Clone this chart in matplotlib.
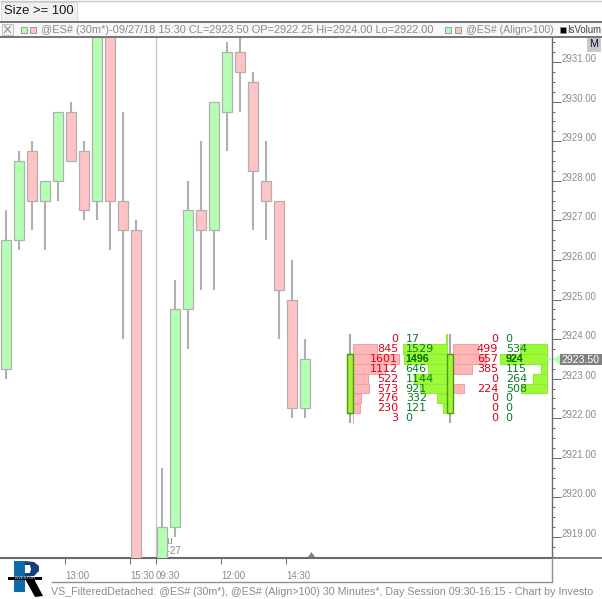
import matplotlib
matplotlib.use("Agg")
import matplotlib.pyplot as plt
from matplotlib.patches import Rectangle, Polygon

W, H = 602, 599
plt.rcParams['font.family'] = ['Liberation Sans', 'DejaVu Sans']

# bar index, open, close, high, low
bar_index = [0, 1, 2, 3, 4, 5, 6, 7, 8, 9, 10, 12, 13, 14, 15, 16, 17, 18, 19, 20, 21, 22, 23]
opens = [2923.25, 2926.5, 2928.75, 2927.5, 2928.0, 2929.75, 2928.75, 2927.5, 2932.5, 2927.5, 2926.75,
         2917.0, 2919.25, 2924.75, 2927.25, 2926.75, 2929.75, 2931.25, 2930.5, 2928.0, 2927.5, 2925.0, 2922.25]
closes = [2926.5, 2928.5, 2927.5, 2928.0, 2929.75, 2928.5, 2927.25, 2932.5, 2927.5, 2926.75, 2917.0,
          2919.25, 2924.75, 2927.25, 2926.75, 2930.0, 2931.25, 2930.75, 2928.25, 2927.5, 2925.25, 2922.25, 2923.5]
highs = [2927.25, 2928.75, 2929.0, 2928.0, 2929.75, 2930.0, 2929.0, 2932.5, 2932.5, 2929.75, 2927.0,
         2920.75, 2925.5, 2928.0, 2929.0, 2930.0, 2931.5, 2932.0, 2930.75, 2929.0, 2927.5, 2926.0, 2924.0]
lows = [2923.0, 2926.25, 2926.75, 2926.25, 2927.5, 2928.5, 2927.0, 2927.0, 2926.25, 2924.0, 2917.0,
        2917.0, 2919.0, 2923.75, 2925.25, 2925.25, 2928.75, 2929.75, 2926.75, 2926.5, 2924.0, 2922.0, 2922.0]

tick_positions = [4.54, 9.54, 11.54, 16.54, 21.54]
tick_labels = ['13:00', '15:30', '09:30', '12:00', '14:30']
major_prices = [2919, 2920, 2921, 2922, 2923, 2924, 2925, 2926, 2927, 2928, 2929, 2930, 2931]

vp_prices = [2924.0, 2923.75, 2923.5, 2923.25, 2923.0, 2922.75, 2922.5, 2922.25, 2922.0]
sell_a = [0, 845, 1601, 1112, 522, 573, 276, 230, 3]
buy_a = [17, 1529, 1496, 646, 1144, 921, 332, 121, 0]
sell_b = [0, 499, 657, 385, 0, 224, 0, 0, 0]
buy_b = [0, 534, 924, 115, 264, 508, 0, 0, 0]

GREEN, RED, EDGE, WICK = '#b4ffb4', '#ffc3c3', '#b0b0b0', '#b0b0b0'
LIME, LIME_E, PINK, PINK_E = '#9cfb36', '#90e840', '#ffb6b6', '#eaa4a4'
TXT = '#8a8a8a'
DARK = '#6a6a6a'

fig = plt.figure(figsize=(W / 100, H / 100), dpi=100, facecolor='white')

# chart axes: x in bar index, y in price
ax = fig.add_axes([0, 1 - 558 / H, 551.5 / W, (558 - 37) / H])
px_per_bar = 13.0
x0_px = 6.0
px2i = lambda p: (p - x0_px) / px_per_bar
pp = 39.58
ax.set_facecolor('white')
for s in ('top', 'left'):
    ax.spines[s].set_visible(False)
ax.spines['right'].set_color(DARK)
ax.spines['bottom'].set_color(DARK)
ax.spines['bottom'].set_linewidth(1.5)
ax.spines['right'].set_linewidth(1.0)

ax.yaxis.tick_right()
ax.set_yticks(major_prices)
ax.set_yticklabels([f'{p:.2f}' for p in major_prices])
ax.set_yticks([2918.5 + 0.25 * k for k in range(54)], minor=True)
ax.tick_params(axis='y', which='major', length=6.5, width=0.72, color=DARK, labelcolor=TXT,
               labelsize=6.9, pad=0.7)
ax.tick_params(axis='y', which='minor', length=2.5, width=0.72, color=DARK)
for lab in ax.get_yticklabels():
    lab.set_va('baseline')
ax.set_xticks(tick_positions)
ax.set_xticklabels(tick_labels, ha='left')
ax.tick_params(axis='x', length=4.3, width=0.72, color=DARK, labelcolor=TXT, labelsize=6.9, pad=5)

ax.axvline(tick_positions[2], color='#c4c4c4', lw=0.9, zorder=1)
ax.text(px2i(157), 2919 - (541 - 537) / pp, 'Thu', color=TXT, fontsize=6.9, va='center', ha='left', zorder=1)
ax.text(px2i(157), 2919 - (551 - 537) / pp, '09-27', color=TXT, fontsize=6.9, va='center', ha='left', zorder=1)

for i, o, c, h, l in zip(bar_index, opens, closes, highs, lows):
    ax.vlines(i, l, h, color=WICK, lw=1.5, zorder=2)
    ax.bar(i, abs(c - o), bottom=min(o, c), width=9.2 / px_per_bar, color=GREEN if c >= o else RED,
           edgecolor=EDGE, linewidth=0.9, zorder=3)


def profile(center, sell, buy, sell_scale, buy_scale, sell_left, buy_right, txt_r, txt_l):
    low, high = min(vp_prices), max(vp_prices)
    for p, s, b in zip(vp_prices, sell, buy):
        if s:
            ax.barh(p, s * sell_scale / px_per_bar, left=px2i(sell_left), height=0.245,
                    color=PINK, edgecolor=PINK_E, lw=0.8, zorder=3)
        if b:
            w = b * buy_scale
            ax.barh(p, w / px_per_bar, left=px2i(buy_right - w), height=0.245,
                    color=LIME, edgecolor=LIME_E, lw=0.8, zorder=3)
    for k, (p, s, b) in enumerate(zip(vp_prices, sell, buy)):
        ax.text(px2i(txt_r), p, str(s), color='#d8001c', ha='right', va='center',
                fontsize=8, family=['DejaVu Sans'], zorder=5)
        if k == 2:
            ax.text(px2i(txt_l), p, str(b), color='#006400', ha='left', va='center',
                    fontsize=7.7, family=['Liberation Sans'], fontweight='bold', zorder=5)
        else:
            ax.text(px2i(txt_l), p, str(b), color='#0a7a28', ha='left', va='center',
                    fontsize=8, family=['DejaVu Sans'], zorder=5)
    ax.vlines(center, low - 0.125, high + 0.125, color='#a8a8a8', lw=1.5, zorder=6)
    ax.bar(center, 1.5, bottom=low + 0.125, width=5.5 / px_per_bar, color='#a2f23c',
           edgecolor='#4c9a08', lw=1.0, zorder=7)


profile(px2i(350), sell_a, buy_a, 0.0285, 0.0285, 353, 446.7, 398, 405.7)
profile(px2i(450), sell_b, buy_b, 0.0497, 0.0505, 453, 546.7, 498, 505.7)

# limits last: set_yticks would otherwise widen them
ax.set_xlim(px2i(0), px2i(551.5))
ax.set_ylim(2919 - (558 - 537) / pp, 2919 + (537 - 37) / pp)

# full-figure pixel overlay for the chrome
ov = fig.add_axes([0, 0, 1, 1], facecolor='none')
ov.set_xlim(0, W)
ov.set_ylim(H, 0)
ov.axis('off')


def rect(x, y, w, h, fc, ec='none', lw=0.0, z=10):
    ov.add_patch(Rectangle((x, y), w, h, facecolor=fc, edgecolor=ec, linewidth=lw, zorder=z))


def hline(y, x1, x2, c=DARK, lw=1.0):
    ov.plot([x1, x2], [y, y], color=c, lw=lw, zorder=11, solid_capstyle='butt')


rect(0, 0, W, 36, 'white')
hline(0.5, 0, W, '#c8c8c8', 1.0)
rect(1, 1.5, 75.5, 19, '#f0f0f0', '#d8d8d8', 0.7)
ov.text(4, 11, 'Size >= 100', fontsize=9.4, color='#1a1a1a', va='center', zorder=12)
hline(21.5, 0, W, DARK, 1.3)
rect(0, 22, W, 14, '#f8f8f8')
hline(36.5, 0, W, DARK, 1.3)
rect(2, 23.5, 11, 11, '#f4f4f4', '#b8b8b8', 0.6)
ov.plot([4.5, 10.5], [26, 32.5], color='#707070', lw=0.6, zorder=12)
ov.plot([10.5, 4.5], [26, 32.5], color='#707070', lw=0.6, zorder=12)
rect(20.5, 26.5, 6, 6, GREEN, '#909090', 0.6)
rect(29.5, 26.5, 6, 6, RED, '#909090', 0.6)
ov.text(41, 29.7, '@ES# (30m*)-09/27/18 15:30 CL=2923.50 OP=2922.25 Hi=2924.00 Lo=2922.00',
        fontsize=7.9, color=TXT, va='center', zorder=12)
rect(444.5, 26.5, 6, 6, GREEN, '#909090', 0.6)
rect(454.5, 26.5, 6, 6, RED, '#909090', 0.6)
ov.text(465.5, 29.7, '@ES# (Align>100)', fontsize=7.6, color=TXT, va='center', zorder=12)
rect(559.5, 26.5, 6, 6, 'black', '#909090', 0.6)
ov.text(567, 29.7, 'IsVolum', fontsize=6.9, color='#404040', va='center', zorder=12)

rect(587, 37.5, 13, 13.5, '#c8c8c8', '#c0c0c0', 0.5)
ov.text(593.5, 44.3, 'M', fontsize=7.8, color='#101040', ha='center', va='center', zorder=12)

# right-hand rule below chart and footer frame
hline(558, 551, W, DARK, 1.2)
hline(582, 51, 551.5, '#909090', 1.0)
ov.plot([551.5, 551.5], [558, 582], color='#909090', lw=1.0, zorder=11)
ov.add_patch(Polygon([[308, 557], [311.5, 552], [315, 557]], facecolor='#808080', zorder=11))
ov.text(51, 592, 'VS_FilteredDetached: @ES# (30m*), @ES# (Align>100) 30 Minutes*, Day Session 09:30-16:15 - Chart by Investo',
        fontsize=7.7, color=TXT, va='center', zorder=12)

# last price marker
ov.add_patch(Polygon([[553, 359.5], [560, 354.5], [560, 365]], facecolor='#b4ffb4', zorder=11))
hline(358.5, 547, 552, '#b4ffb4', 1.2)
rect(560, 354, 42, 11, '#808080')
ov.text(562, 359.7, '2923.50', fontsize=7.6, color='white', va='center', zorder=12)

# logo
rect(14, 561, 11, 31, '#0f6aa8', z=12)
ov.add_patch(Polygon([[25, 561], [34, 562], [39, 566], [39, 571], [34, 576], [25, 577]],
                     facecolor='#14407a', zorder=12))
ov.add_patch(Polygon([[25, 565], [30, 565], [31, 569], [30, 573], [25, 573]],
                     facecolor='white', zorder=13))
ov.add_patch(Polygon([[24, 577], [33, 577], [43, 596], [35, 597]], facecolor='black', zorder=13))
rect(8, 576.5, 34, 3.5, 'black', z=14)
ov.text(25, 578.3, 'INVESTOR', fontsize=3, color='white', ha='center', va='center', zorder=15)

fig.savefig('out.png', dpi=100, facecolor='white')
